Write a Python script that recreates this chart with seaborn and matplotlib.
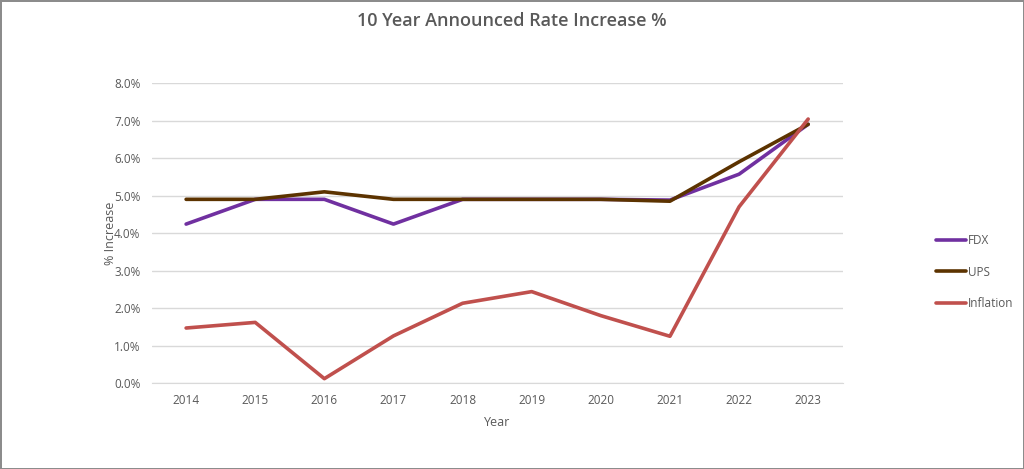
import matplotlib
matplotlib.use("Agg")
import matplotlib.pyplot as plt
import matplotlib.ticker as mticker
import seaborn as sns
import pandas as pd

years = ["2014", "2015", "2016", "2017", "2018", "2019", "2020", "2021", "2022", "2023"]
fdx = [4.24, 4.9, 4.9, 4.24, 4.9, 4.9, 4.9, 4.88, 5.57, 6.9]
ups = [4.9, 4.9, 5.1, 4.9, 4.9, 4.9, 4.9, 4.85, 5.9, 6.9]
inflation = [1.47, 1.62, 0.12, 1.26, 2.13, 2.44, 1.8, 1.25, 4.7, 7.04]

series = {"FDX": fdx, "UPS": ups, "Inflation": inflation}
colors = {"FDX": "#7030A0", "UPS": "#5C3300", "Inflation": "#C0504D"}

df = pd.DataFrame(
    [(y, name, v) for name, vals in series.items() for y, v in zip(years, vals)],
    columns=["Year", "Series", "Value"],
)
df["pos"] = df["Year"].map({y: i for i, y in enumerate(years)})

sns.set_style("white")
plt.rcParams["font.family"] = ["Open Sans", "DejaVu Sans"]

fig = plt.figure(figsize=(10.24, 4.69), dpi=100)
fig.patch.set_edgecolor("#8c8c8c")
fig.patch.set_linewidth(2)
ax = fig.add_axes([0.148, 0.183, 0.675, 0.64])

sns.lineplot(data=df, x="pos", y="Value", hue="Series", palette=colors,
             linewidth=2.6, ax=ax, sort=False)

ax.set_xlim(-0.5, len(years) - 0.5)
ax.set_ylim(0, 8)
ax.set_xticks(range(len(years)))
ax.set_xticklabels(years)
ax.yaxis.set_major_locator(mticker.MultipleLocator(1))
ax.yaxis.set_major_formatter(mticker.FuncFormatter(lambda v, _: f"{v:.1f}%"))
ax.grid(axis="y", color="#d9d9d9", linewidth=1)
ax.set_axisbelow(True)
for s in ["top", "right", "left"]:
    ax.spines[s].set_visible(False)
ax.spines["bottom"].set_color("#d9d9d9")
ax.tick_params(axis="both", length=0, labelsize=8.5, colors="#595959", pad=8)

ax.set_xlabel("Year", fontsize=9, color="#595959", labelpad=6)
ax.set_ylabel("% Increase", fontsize=9, color="#595959", labelpad=-2)
fig.suptitle("10 Year Announced Rate Increase %", x=0.5, y=0.975,
             fontsize=13, color="#595959", fontweight="semibold")

handles, labels = ax.get_legend_handles_labels()
ax.legend(handles, labels, loc="center left", bbox_to_anchor=(1.12, 0.37),
          frameon=False, fontsize=8.5, labelcolor="#595959",
          handlelength=2.5, handletextpad=0.2, labelspacing=1.55)

fig.savefig("out.png", dpi=100)
